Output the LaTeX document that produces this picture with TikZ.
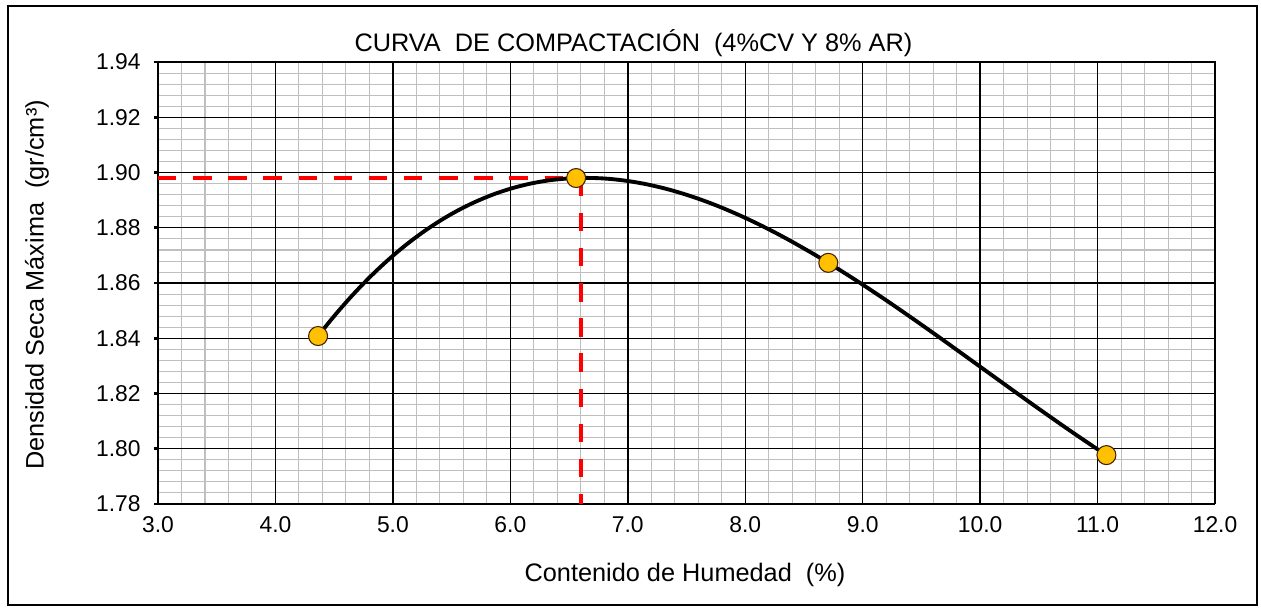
\documentclass[tikz,border=0pt]{standalone}
\usepackage{fontspec}
\setmainfont{Liberation Sans}
\definecolor{amarillo}{HTML}{FFC000}
\definecolor{rejilla}{HTML}{BFBFBF}

\begin{document}
\begin{tikzpicture}[
  menor/.style={draw=rejilla, line width=0.6pt},
  mayor/.style={draw=black, line width=0.8pt},
  eje/.style={draw=black, line width=1.6pt},
  curva/.style={draw=black, line width=2.2pt},
  guia/.style={draw=red, line width=2.3pt, dash pattern=on 10.5pt off 9.5pt},
  punto/.style={circle, draw=black!75!orange, fill=amarillo, line width=0.6pt, minimum size=0.38cm, inner sep=0pt},
  rotulo/.style={font=\fontsize{14.4}{17}\selectfont},
  escala/.style={font=\fontsize{13}{15}\selectfont, inner sep=0pt}
]
\useasboundingbox (0,0) rectangle (25.22,12.14);
\draw[line width=0.8pt] (0.16,0.04) rectangle (25.14,12.02);
\node[rotulo] (titulo) at (12.67,11.28) {CURVA\ \ DE COMPACTACIÓN\ \ (4\%CV Y 8\% AR)};
\node[rotulo] (ejex) at (13.7,0.64) {Contenido de Humedad\ \ (\%)};
\node[rotulo, rotate=90] (ejey) at (0.74,6.44) {Densidad Seca Máxima\ \ (gr/cm³)};

\begin{scope}[shift={(-3.887cm,-96.285cm)}, x=2.349cm, y=55.25cm]
% rejilla
\foreach \i in {1,...,44}
    \draw[menor] ({3+0.2*\i},1.78) -- ({3+0.2*\i},1.94);
\foreach \j in {1,...,39}
    \draw[menor] (3,{1.78+0.004*\j}) -- (12,{1.78+0.004*\j});
\foreach \x in {4,...,11}
    \draw[mayor] (\x,1.78) -- (\x,1.94);
\foreach \y in {1.80,1.82,1.84,1.86,1.88,1.90,1.92}
    \draw[mayor] (3,\y) -- (12,\y);
\draw[mayor] (3,1.94) -- (12,1.94) -- (12,1.78);
\draw[eje] (3,1.94) -- (3,1.78) -- (12,1.78);
\coordinate (origen) at (3,1.78);

% escalas
\foreach \y [count=\k] in {1.78,1.80,1.82,1.84,1.86,1.88,1.90,1.92,1.94}
    \draw[eje] (3,\y) -- ++(-0.08cm,0) node[escala, anchor=east, xshift=-0.24cm] (ty\k) {\y};
\foreach \x in {3,...,12}
    \node[escala, anchor=north, yshift=-0.24cm] (tx\x) at (\x,1.78) {\x.0};

% humedad optima
\coordinate (optimo) at (6.60,1.8981);
\draw[guia] (origen |- optimo) -- (optimo);
\draw[guia] (optimo) -- (optimo |- origen);

% curva (polinomio de 3er grado) y ensayos
\coordinate (p1) at (4.363,1.8408);
\coordinate (p2) at (6.56,1.898);
\coordinate (p3) at (8.707,1.8673);
\coordinate (p4) at (11.075,1.7977);
\draw[curva] plot[domain=4.363:11.075, samples=90, smooth]
    (\x, {1.78+(60.8+26.036*(\x-4.363)-9.2852*(\x-4.363)*(\x-6.56)+0.88534*(\x-4.363)*(\x-6.56)*(\x-8.707))/1000});
\foreach \k in {1,...,4}
    \node[punto] (m\k) at (p\k) {};
\end{scope}
\end{tikzpicture}
\end{document}
